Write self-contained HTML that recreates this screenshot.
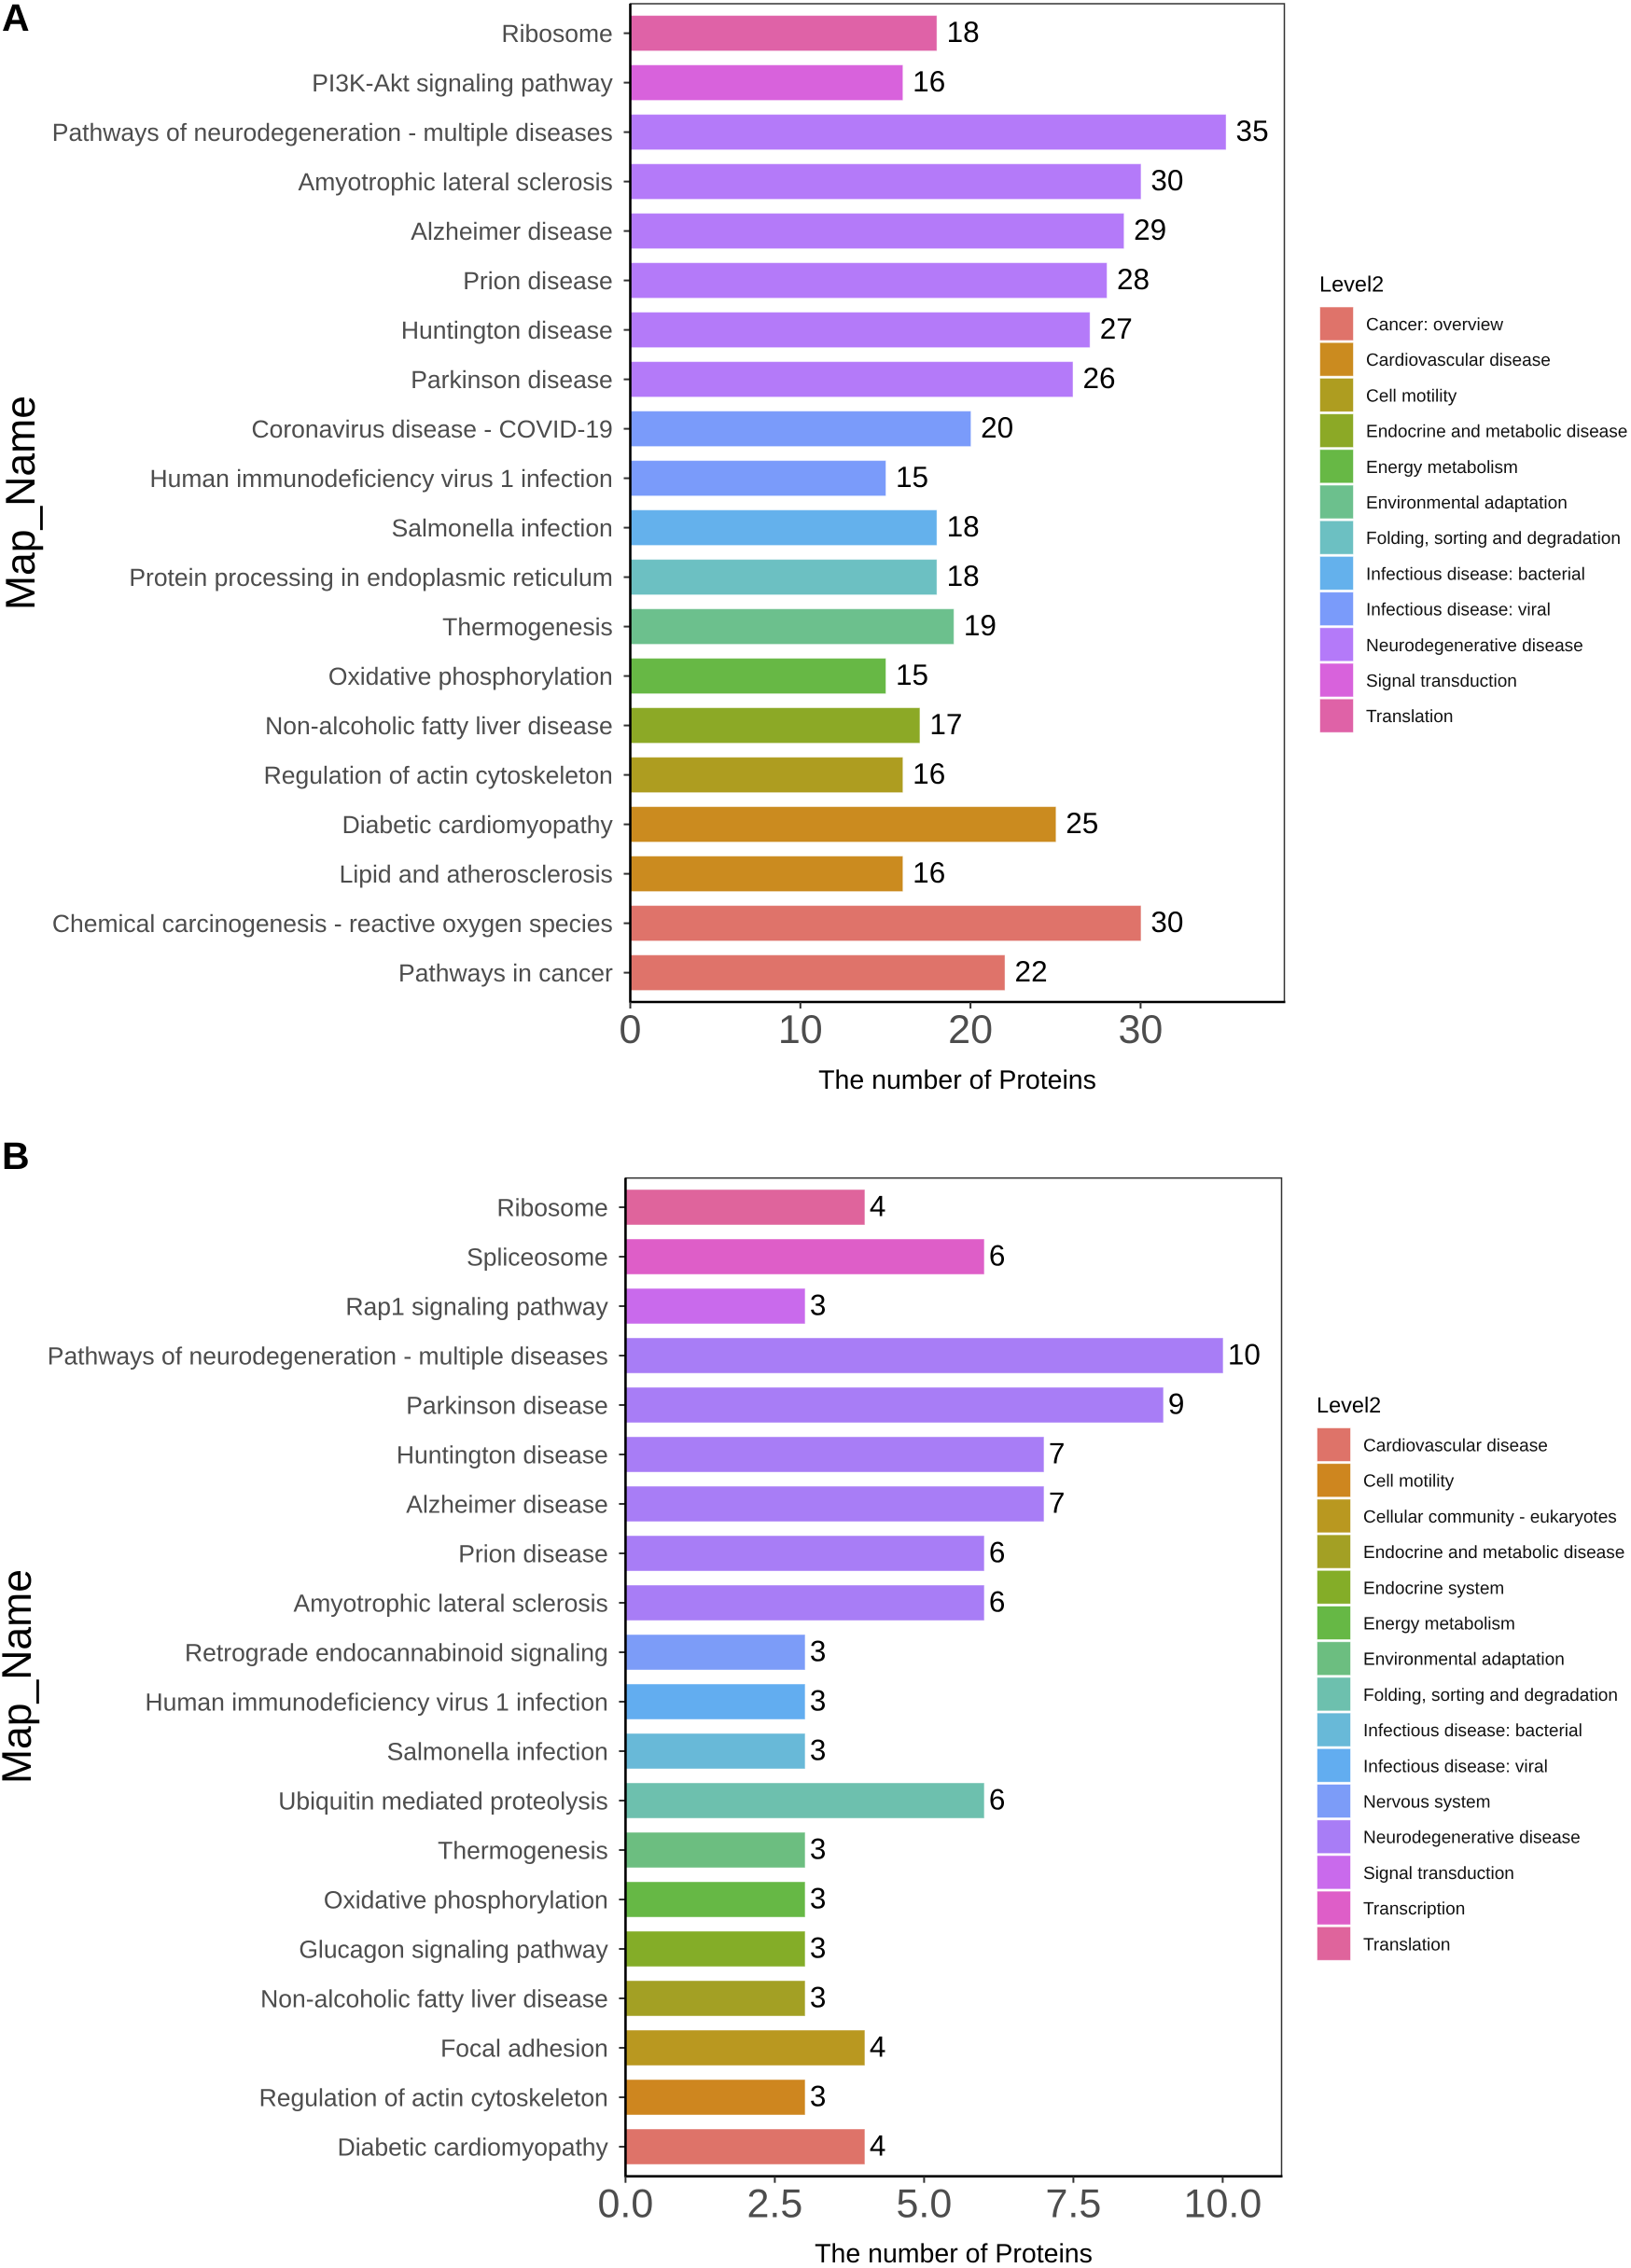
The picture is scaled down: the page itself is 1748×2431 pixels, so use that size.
<!DOCTYPE html>
<html>
<head>
<meta charset="utf-8">
<title>Protein pathway bar charts</title>
<style>
html,body{margin:0;padding:0;background:#fff;width:1748px;height:2431px;overflow:hidden}
svg{display:block}
text{font-family:"Liberation Sans",Arial,Helvetica,sans-serif;text-rendering:geometricPrecision}
</style>
</head>
<body>
<svg id="chart" xmlns="http://www.w3.org/2000/svg" width="1748" height="2431" viewBox="0 0 1748 2431">
<text x="2" y="33" font-size="41" font-weight="bold" fill="#000">A</text>
<text x="2" y="1253" font-size="41" font-weight="bold" fill="#000">B</text>
</svg>
<script>
const categoriesA = ['Ribosome','PI3K-Akt signaling pathway','Pathways of neurodegeneration - multiple diseases','Amyotrophic lateral sclerosis','Alzheimer disease','Prion disease','Huntington disease','Parkinson disease','Coronavirus disease - COVID-19','Human immunodeficiency virus 1 infection','Salmonella infection','Protein processing in endoplasmic reticulum','Thermogenesis','Oxidative phosphorylation','Non-alcoholic fatty liver disease','Regulation of actin cytoskeleton','Diabetic cardiomyopathy','Lipid and atherosclerosis','Chemical carcinogenesis - reactive oxygen species','Pathways in cancer'];
const valuesA = [18,16,35,30,29,28,27,26,20,15,18,18,19,15,17,16,25,16,30,22];
const groupsA = ['Translation','Signal transduction','Neurodegenerative disease','Neurodegenerative disease','Neurodegenerative disease','Neurodegenerative disease','Neurodegenerative disease','Neurodegenerative disease','Infectious disease: viral','Infectious disease: viral','Infectious disease: bacterial','Folding, sorting and degradation','Environmental adaptation','Energy metabolism','Endocrine and metabolic disease','Cell motility','Cardiovascular disease','Cardiovascular disease','Cancer: overview','Cancer: overview'];
const legendA = ['Cancer: overview','Cardiovascular disease','Cell motility','Endocrine and metabolic disease','Energy metabolism','Environmental adaptation','Folding, sorting and degradation','Infectious disease: bacterial','Infectious disease: viral','Neurodegenerative disease','Signal transduction','Translation'];
const paletteA = ['#DF736A','#CB8B1F','#AE9D20','#8CA926','#67B845','#6CC08D','#6CC0C2','#64B1EC','#7A9BFA','#B47AF9','#D862DC','#DF62A7'];
const xTicksA = [0,10,20,30];
const xTickLabelsA = ['0','10','20','30'];

const categoriesB = ['Ribosome','Spliceosome','Rap1 signaling pathway','Pathways of neurodegeneration - multiple diseases','Parkinson disease','Huntington disease','Alzheimer disease','Prion disease','Amyotrophic lateral sclerosis','Retrograde endocannabinoid signaling','Human immunodeficiency virus 1 infection','Salmonella infection','Ubiquitin mediated proteolysis','Thermogenesis','Oxidative phosphorylation','Glucagon signaling pathway','Non-alcoholic fatty liver disease','Focal adhesion','Regulation of actin cytoskeleton','Diabetic cardiomyopathy'];
const valuesB = [4,6,3,10,9,7,7,6,6,3,3,3,6,3,3,3,3,4,3,4];
const groupsB = ['Translation','Transcription','Signal transduction','Neurodegenerative disease','Neurodegenerative disease','Neurodegenerative disease','Neurodegenerative disease','Neurodegenerative disease','Neurodegenerative disease','Nervous system','Infectious disease: viral','Infectious disease: bacterial','Folding, sorting and degradation','Environmental adaptation','Energy metabolism','Endocrine system','Endocrine and metabolic disease','Cellular community - eukaryotes','Cell motility','Cardiovascular disease'];
const legendB = ['Cardiovascular disease','Cell motility','Cellular community - eukaryotes','Endocrine and metabolic disease','Endocrine system','Energy metabolism','Environmental adaptation','Folding, sorting and degradation','Infectious disease: bacterial','Infectious disease: viral','Nervous system','Neurodegenerative disease','Signal transduction','Transcription','Translation'];
const paletteB = ['#DE7369','#CE861F','#B99820','#A3A024','#84AD28','#66B845','#6CBE80','#6DC0AE','#68B9D8','#62ADF0','#7C9CF8','#A87DF6','#C96AEC','#DE5EC8','#DF649C'];
const xTicksB = [0,2.5,5,7.5,10];
const xTickLabelsB = ['0.0','2.5','5.0','7.5','10.0'];

const svg = document.getElementById('chart');
const NS = 'http://www.w3.org/2000/svg';

function make(tag, attrs, content) {
  const el = document.createElementNS(NS, tag);
  for (const k in attrs) el.setAttribute(k, attrs[k]);
  if (content !== undefined) el.textContent = content;
  svg.appendChild(el);
  return el;
}

function drawPanel(p, categories, values, groups, legend, palette, xTicks, xTickLabels) {
  const xScale = v => p.x0 + v * p.unit;
  const yScale = i => p.y0 + i * p.step;

  const bg = make('rect', {x: p.left, y: p.top, width: p.right - p.left, height: p.bottom - p.top, fill: '#fff', stroke: '#333', 'stroke-width': 1.5});
  
  

  categories.forEach((name, i) => {
    const cy = yScale(i);
    const color = palette[legend.indexOf(groups[i])];

    const bar = make('rect', {x: xScale(0), y: cy - 18.5, width: xScale(values[i]) - xScale(0), height: 37, fill: color, stroke: color, 'stroke-opacity': 0.55, 'stroke-width': 1});
    
    

    const tick = make('line', {x1: p.left - 7, x2: p.left, y1: cy, y2: cy, stroke: '#333', 'stroke-width': 2});
    
    

    const label = make('text', {x: p.labelRight, y: cy + 9.4, 'text-anchor': 'end', 'font-size': 26.5, fill: '#4d4d4d'}, name);
    
    

    const val = make('text', {x: xScale(values[i]) + p.valueGap, y: cy + 9.5, 'font-size': 31.5, fill: '#000'}, String(values[i]));
    
    
  });

  const axisL = make('line', {x1: p.left, x2: p.left, y1: p.top, y2: p.bottom + 1, stroke: '#000', 'stroke-width': 2.6});
  
  

  const axisB = make('line', {x1: p.left, x2: p.right + 1, y1: p.bottom, y2: p.bottom, stroke: '#000', 'stroke-width': 2.6});
  
  

  xTicks.forEach((t, i) => {
    const tx = xScale(t);
    const tick = make('line', {x1: tx, x2: tx, y1: p.bottom, y2: p.bottom + 7, stroke: '#333', 'stroke-width': 2});
    
    

    const label = make('text', {x: tx, y: p.tickBase, 'text-anchor': 'middle', 'font-size': 43, fill: '#4d4d4d'}, xTickLabels[i]);
    
    
  });

  const xTitle = make('text', {x: p.xTitleX, y: p.xTitleBase, 'text-anchor': 'middle', 'font-size': 28.5, fill: '#000'}, 'The number of Proteins');
  
  

  const yTitle = make('text', {transform: 'translate(' + p.yTitleX + ',' + p.yTitleY + ') rotate(-90)', 'text-anchor': 'middle', 'font-size': 44.5, fill: '#000'}, 'Map_Name');
  
  

  const legTitle = make('text', {x: p.legendX - 1, y: p.legendTitleBase, 'font-size': 23.5, fill: '#000'}, 'Level2');
  
  

  legend.forEach((name, i) => {
    const sy = p.legendTop + i * 38.2;

    const swatch = make('rect', {x: p.legendX, y: sy, width: 35, height: 35, fill: palette[i], stroke: palette[i], 'stroke-opacity': 0.45, 'stroke-width': 1});
    
    

    const text = make('text', {x: p.legendX + 49, y: sy + 24.5, 'font-size': 19.05, fill: '#111'}, name);
    
    
  });
}

drawPanel({id: 'a', left: 675.5, right: 1376.5, top: 4, bottom: 1074, x0: 675.5, unit: 18.23, y0: 35.6, step: 53, labelRight: 656.8, valueGap: 11, tickBase: 1118, xTitleX: 1026, xTitleBase: 1167, yTitleX: 37, yTitleY: 539, legendX: 1415, legendTitleBase: 312.7, legendTop: 329.5}, categoriesA, valuesA, groupsA, legendA, paletteA, xTicksA, xTickLabelsA);

drawPanel({id: 'b', left: 670.4, right: 1373.5, top: 1262.7, bottom: 2332.7, x0: 670.4, unit: 64, y0: 1294, step: 53, labelRight: 651.8, valueGap: 5.5, tickBase: 2376.7, xTitleX: 1022, xTitleBase: 2425, yTitleX: 33, yTitleY: 1797, legendX: 1412, legendTitleBase: 1514, legendTop: 1531}, categoriesB, valuesB, groupsB, legendB, paletteB, xTicksB, xTickLabelsB);
</script>
</body>
</html>
